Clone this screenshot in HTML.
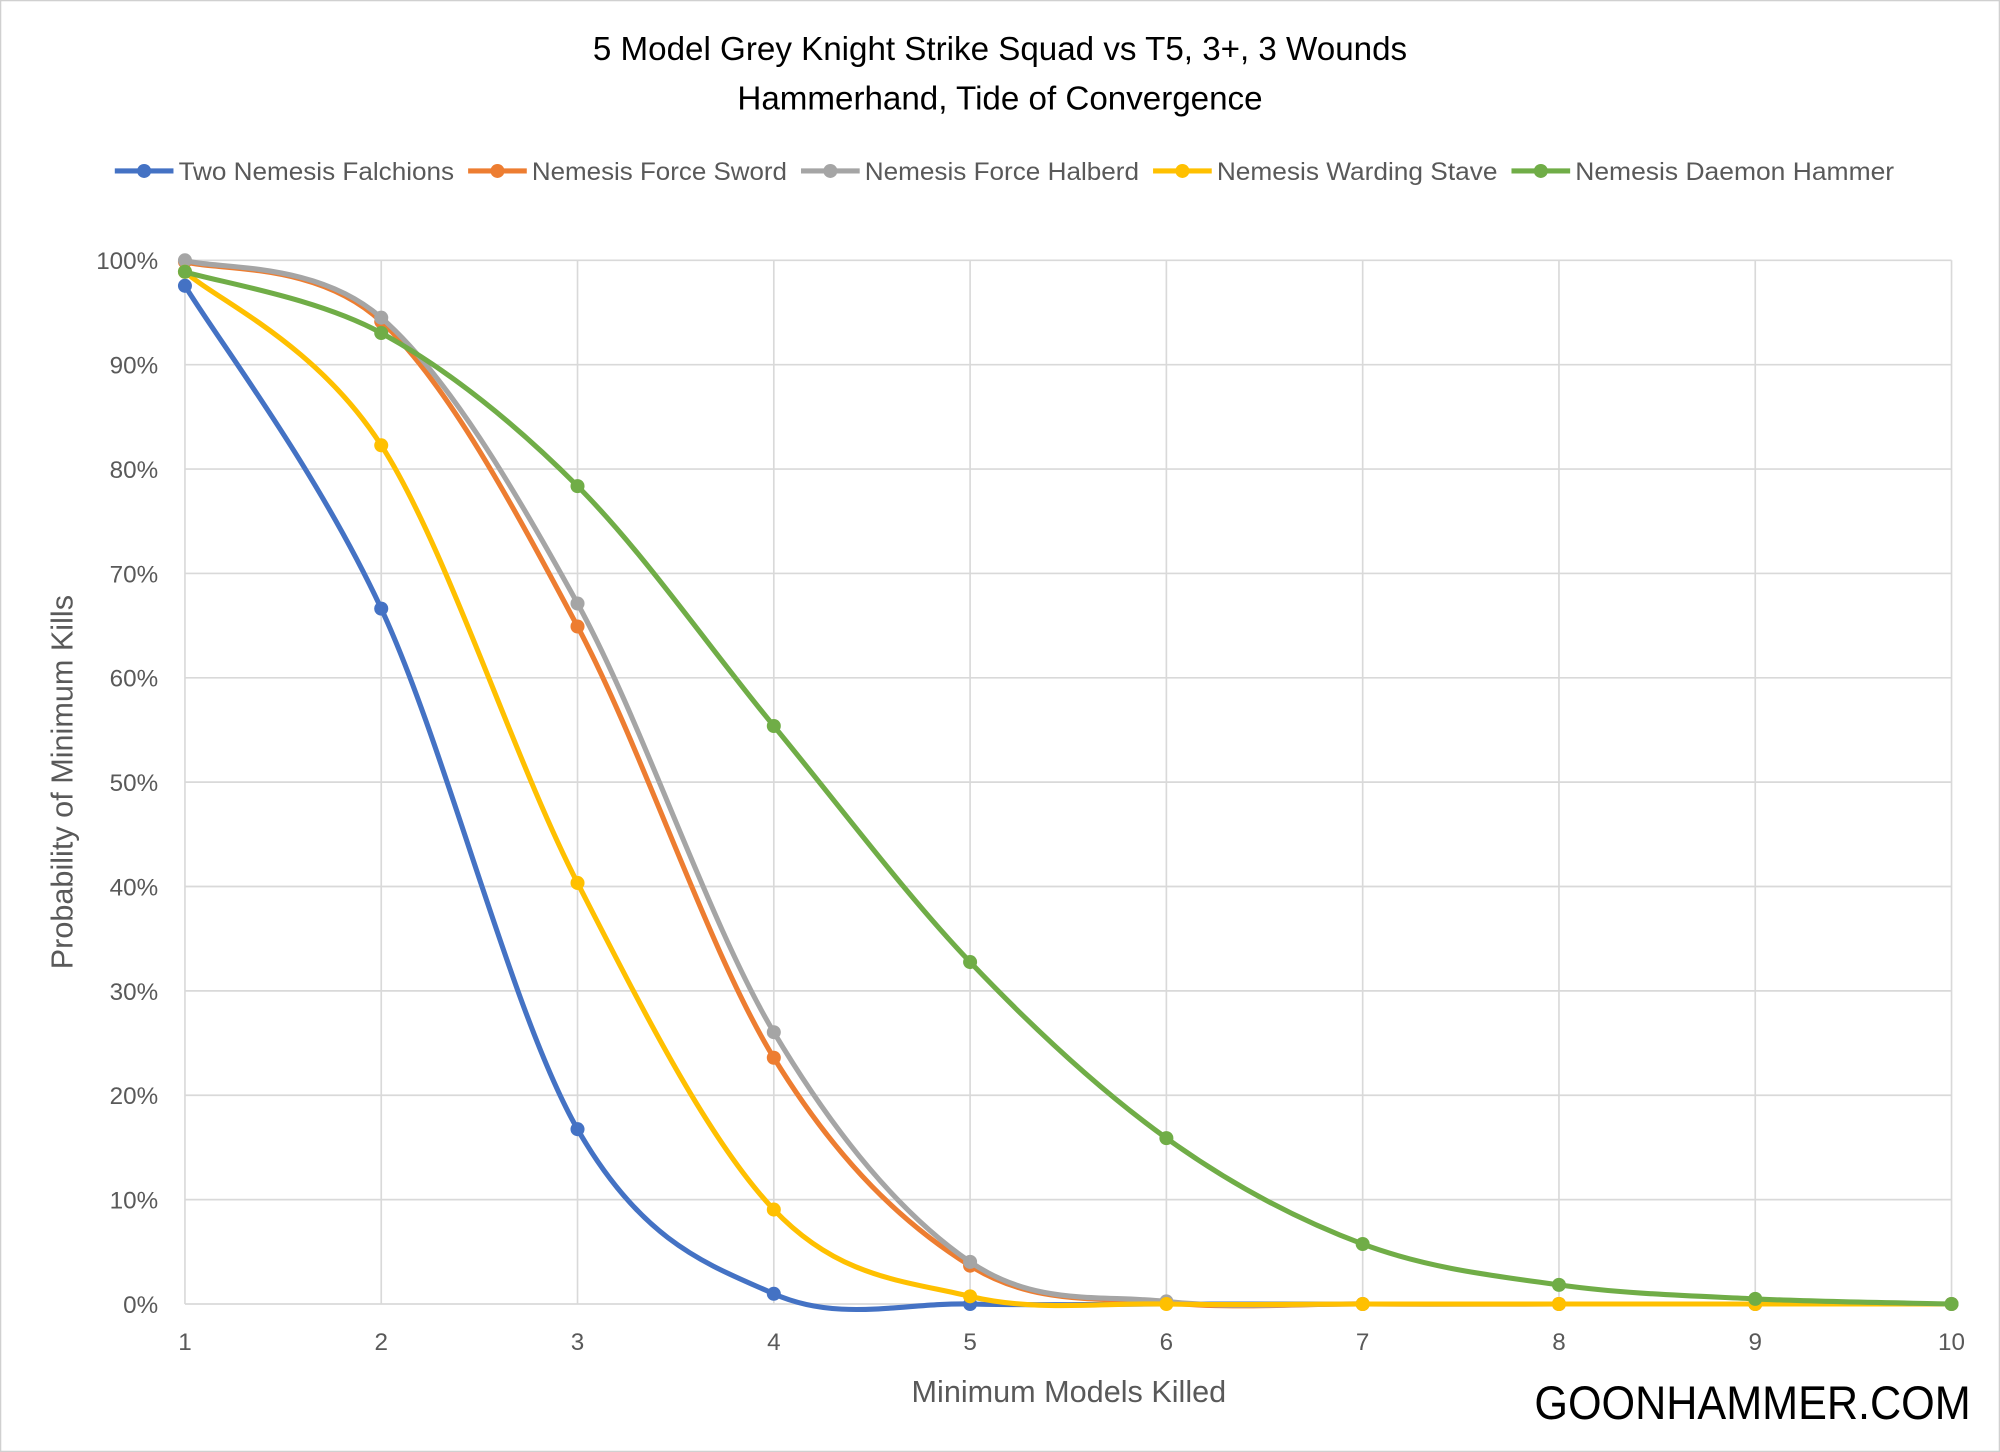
<!DOCTYPE html>
<html><head><meta charset="utf-8"><style>
html,body{margin:0;padding:0;background:#fff;}
svg{display:block;}
text{font-family:"Liberation Sans",sans-serif;}
</style></head><body>
<svg id="s" width="2000" height="1452" viewBox="0 0 1568 1138" preserveAspectRatio="none" xmlns="http://www.w3.org/2000/svg">
<rect x="0.5" y="0.5" width="1567" height="1137" fill="#fff" stroke="#d0d0d0"/>
<text x="784" y="47" font-size="26" text-anchor="middle" fill="#000">5 Model Grey Knight Strike Squad vs T5, 3+, 3 Wounds</text>
<text x="784" y="86" font-size="26" text-anchor="middle" fill="#000">Hammerhand, Tide of Convergence</text>
<g id="grid" stroke="#d9d9d9" stroke-width="1.3"></g>
<g id="yl" font-size="19" fill="#595959" text-anchor="end"></g>
<g id="xl" font-size="19" fill="#595959" text-anchor="middle"></g>
<text transform="translate(57,613) rotate(-90)" font-size="24" fill="#595959" text-anchor="middle">Probability of Minimum Kills</text>
<text x="838" y="1099" font-size="24" fill="#595959" text-anchor="middle">Minimum Models Killed</text>
<text x="1203" y="1112" font-size="37" fill="#000" textLength="342" lengthAdjust="spacingAndGlyphs">GOONHAMMER.COM</text>
<g id="series"></g>
<g id="legend" font-size="19.5" fill="#595959"></g>
</svg>
<script>
var ns="http://www.w3.org/2000/svg";
function el(t,a,p){var e=document.createElementNS(ns,t);for(var k in a)e.setAttribute(k,a[k]);p.appendChild(e);return e;}
var g=document.getElementById('grid'),yl=document.getElementById('yl'),xl=document.getElementById('xl');
var x0=145,dx=(1530-145)/9,y0=1022,dy=81.8;
for(var i=0;i<=10;i++){var y=y0-i*dy;el('line',{x1:x0,x2:1530,y1:y,y2:y},g);var t=el('text',{x:124,y:y+7},yl);t.textContent=(i*10)+'%';}
for(var i=0;i<10;i++){var x=x0+i*dx;el('line',{x1:x,x2:x,y1:y0-10*dy,y2:y0},g);var t=el('text',{x:x,y:1058},xl);t.textContent=i+1;}
var S=[
["Two Nemesis Falchions","#4472c4",[224,477,885,1014,1022,1022,1022,1022,1022,1022],5],
["Nemesis Force Sword","#ed7d31",[205,252,491,829,992,1021,1022,1022,1022,1022],10],
["Nemesis Force Halberd","#a5a5a5",[204,249,473,809,989,1020,1022,1022,1022,1022],10],
["Nemesis Warding Stave","#ffc000",[213,349,692,948,1016,1022,1022,1022,1022,1022],9],
["Nemesis Daemon Hammer","#70ad47",[213,261,381,569,754,892,975,1007,1018,1022],10]];
var sg=document.getElementById('series');
S.forEach(function(s){
 var P=s[2].map(function(v,i){return [x0+i*dx,v];});
 var d='M'+P[0][0]+','+P[0][1];
 for(var i=0;i<P.length-1;i++){var p0=P[i-1]||P[i],p1=P[i],p2=P[i+1],p3=P[i+2]||p2;
  d+=' C'+(p1[0]+(p2[0]-p0[0])/6)+','+(p1[1]+(p2[1]-p0[1])/6)+' '+(p2[0]-(p3[0]-p1[0])/6)+','+(p2[1]-(p3[1]-p1[1])/6)+' '+p2[0]+','+p2[1];}
 el('path',{d:d,fill:'none',stroke:s[1],'stroke-width':4,'stroke-linecap':'round'},sg);
 for(var i=0;i<s[3];i++)el('circle',{cx:P[i][0],cy:P[i][1],r:5.5,fill:s[1]},sg);
});
var lg=document.getElementById('legend');
var lx=[90,367,628,904,1185];
var tl=[216,200,215,220,250];
S.forEach(function(s,i){var x=lx[i];el('line',{x1:x,x2:x+46,y1:134,y2:134,stroke:s[1],'stroke-width':4},lg);
 el('circle',{cx:x+23,cy:134,r:5.5,fill:s[1]},lg);var t=el('text',{x:x+50,y:141,textLength:tl[i],lengthAdjust:'spacingAndGlyphs'},lg);t.textContent=s[0];});
</script>
</body></html>
